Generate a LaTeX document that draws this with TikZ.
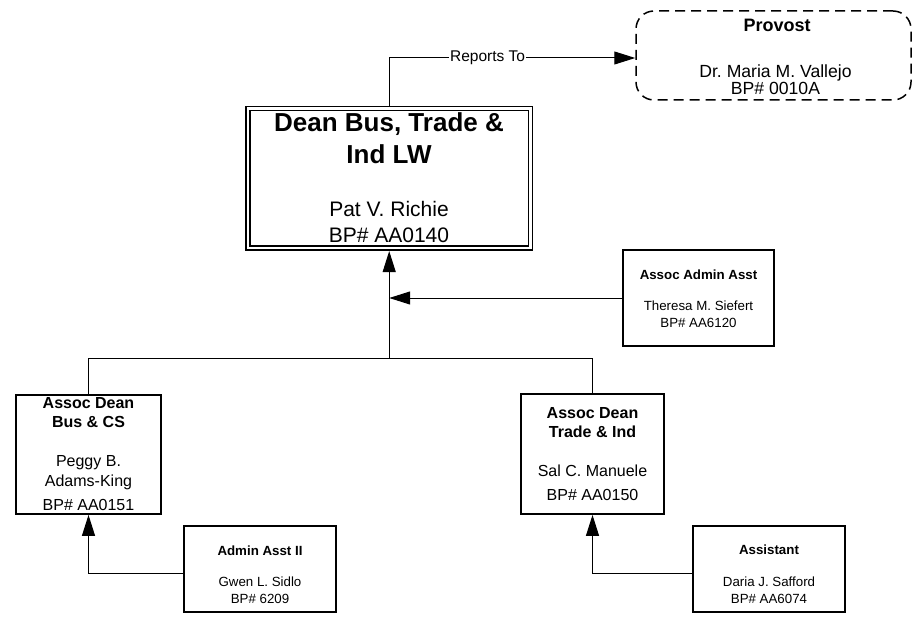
\documentclass[tikz,border=0pt]{standalone}
\usepackage{fontspec}
\setmainfont{Liberation Sans}
\usetikzlibrary{arrows.meta}
\frenchspacing
\tikzset{
  box/.style={draw=black, line width=1.8bp, rectangle, inner sep=0pt, outer sep=0.9bp},
  deanbox/.style={draw=black, line width=1.6bp, double=white, double distance=2.4bp, rectangle, inner sep=0pt, outer sep=2.8bp},
  provbox/.style={draw=black, line width=1.5bp, dash pattern=on 10bp off 6bp, rounded corners=18bp, rectangle, inner sep=0pt, outer sep=0.75bp},
  conn/.style={draw=black, line width=1bp},
  arr/.style={conn, -{Triangle[length=21bp,width=13bp]}},
  txt/.style={anchor=base, inner sep=0pt, outer sep=0pt},
  fxl/.style={font=\fontsize{26bp}{31bp}\selectfont\bfseries},
  fl/.style={font=\fontsize{21bp}{24bp}\selectfont},
  fpb/.style={font=\fontsize{18bp}{20bp}\selectfont\bfseries},
  fp/.style={font=\fontsize{17.6bp}{20bp}\selectfont},
  fmb/.style={font=\fontsize{16bp}{19bp}\selectfont\bfseries},
  fm/.style={font=\fontsize{16bp}{19bp}\selectfont},
  fsb/.style={font=\fontsize{13.3bp}{16bp}\selectfont\bfseries},
  fs/.style={font=\fontsize{13.3bp}{16bp}\selectfont},
  lbl/.style={font=\fontsize{15.5bp}{18bp}\selectfont, fill=white, inner sep=1bp},
}
\begin{document}
\begin{tikzpicture}[x=1bp, y=-1bp]
\fill[white] (0,0) rectangle (914,623);
\useasboundingbox (0,0) rectangle (914,623);

% boxes
\node[deanbox, minimum width=282.9bp, minimum height=139.7bp] (dean) at (389.2,178.4) {};
\node[provbox, minimum width=275bp, minimum height=89bp] (provost) at (773.5,55.5) {};
\node[box, minimum width=151bp, minimum height=96bp] (aaa) at (698.5,298) {};
\node[box, minimum width=145bp, minimum height=119bp] (ad1) at (88.5,454.5) {};
\node[box, minimum width=143bp, minimum height=120bp] (ad2) at (592.5,454) {};
\node[box, minimum width=152bp, minimum height=86bp] (aa2) at (260,569) {};
\node[box, minimum width=152bp, minimum height=86bp] (as) at (769,569) {};

% texts
\node[txt, fxl] (d1) at (389,132) {Dean Bus, Trade \&};
\node[txt, fxl] (d2) at (389,164) {Ind LW};
\node[txt, fl] (d3) at (389,217) {Pat V. Richie};
\node[txt, fl] (d4) at (389,243) {BP\# AA0140};

\node[txt, fpb] (p1) at (777,31.5) {Provost};
\node[txt, fp] (p2) at (775.5,78) {Dr. Maria M. Vallejo};
\node[txt, fp] (p3) at (775.5,95) {BP\# 0010A};

\node[txt, fsb] (a1) at (698.5,279) {Assoc Admin Asst};
\node[txt, fs] (a2) at (698.5,310) {Theresa M. Siefert};
\node[txt, fs] (a3) at (698.5,327) {BP\# AA6120};

\node[txt, fmb] (l1) at (88.5,408.5) {Assoc Dean};
\node[txt, fmb] (l2) at (88.5,427.5) {Bus \& CS};
\node[txt, fm] (l3) at (88.5,466) {Peggy B.};
\node[txt, fm] (l4) at (88.5,486) {Adams-King};
\node[txt, fm] (l5) at (88.5,510) {BP\# AA0151};

\node[txt, fmb] (r1) at (592.5,418) {Assoc Dean};
\node[txt, fmb] (r2) at (592.5,437.5) {Trade \& Ind};
\node[txt, fm] (r3) at (592.5,476) {Sal C. Manuele};
\node[txt, fm] (r4) at (592.5,500) {BP\# AA0150};

\node[txt, fsb] (g1) at (260,555) {Admin Asst II};
\node[txt, fs] (g2) at (260,586.5) {Gwen L. Sidlo};
\node[txt, fs] (g3) at (260,603) {BP\# 6209};

\node[txt, fsb] (s1) at (769,554) {Assistant};
\node[txt, fs] (s2) at (769,586.5) {Daria J. Safford};
\node[txt, fs] (s3) at (769,603) {BP\# AA6074};

% connectors
\coordinate (J) at (389.2,358);
\draw[arr] (dean.north) |- node[lbl, pos=0.7] (rt) {Reports To} ([yshift=-2.5bp]provost.west);
\draw[arr] (J) -- (dean.south);
\draw[arr] (aaa.west) -- (aaa.west -| J);
\draw[conn] (ad1.north) -- (ad1.north |- J) -- (ad2.north |- J) -- (ad2.north);
\draw[arr] ([yshift=-4bp]aa2.west) -| (ad1.south);
\draw[arr] ([yshift=-4bp]as.west) -| (ad2.south);
\end{tikzpicture}
\end{document}
